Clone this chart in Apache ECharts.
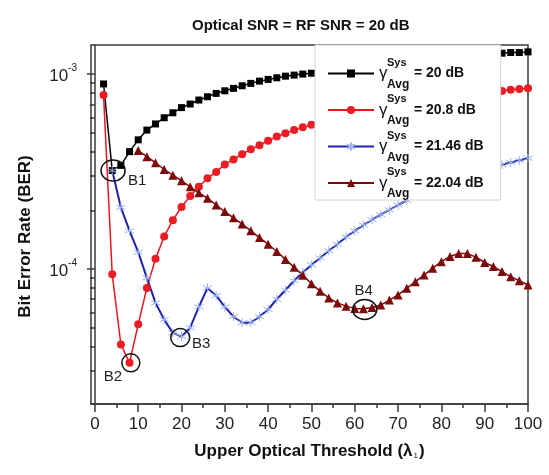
<!DOCTYPE html>
<html>
<head>
<meta charset="utf-8">
<script src="https://cdn.jsdelivr.net/npm/echarts@6/dist/echarts.min.js"></script>
<style>
  html, body { margin: 0; padding: 0; background: #fff; }
  #chart { width: 549px; height: 475px; }
</style>
</head>
<body>
<div id="chart"></div>
<script>
const FONT = '"Liberation Sans", Arial, sans-serif';

// tick positions
const xTicks = [0, 10, 20, 30, 40, 50, 60, 70, 80, 90, 100];
const xMinorTicks = [5, 15, 25, 35, 45, 55, 65, 75, 85, 95];
const yTicks = [1e-4, 1e-3];
const yMinorTicks = [2e-5, 3e-5, 4e-5, 5e-5, 6e-5, 7e-5, 8e-5, 9e-5,
                     2e-4, 3e-4, 4e-4, 5e-4, 6e-4, 7e-4, 8e-4, 9e-4];

// upper optical threshold values (lambda_1)
const lambda = [2, 4, 6, 8, 10, 12, 14, 16, 18, 20, 22, 24, 26, 28, 30, 32, 34, 36, 38, 40,
                42, 44, 46, 48, 50, 52, 54, 56, 58, 60, 62, 64, 66, 68, 70, 72, 74, 76, 78, 80,
                82, 84, 86, 88, 90, 92, 94, 96, 98, 100];

// BER, gamma = 20 dB (lambda 2..100)
const ber20 = [8.9e-4, 3.2e-4, 3.4e-4, 4.0e-4, 4.6e-4, 5.16e-4, 5.55e-4, 5.97e-4, 6.33e-4, 6.73e-4,
               7.02e-4, 7.36e-4, 7.65e-4, 7.96e-4, 8.21e-4, 8.45e-4, 8.71e-4, 8.96e-4, 9.2e-4, 9.39e-4,
               9.57e-4, 9.76e-4, 9.88e-4, 1.0e-3, 1.01e-3, 1.02e-3, 1.04e-3, 1.05e-3, 1.06e-3, 1.08e-3,
               1.09e-3, 1.10e-3, 1.12e-3, 1.13e-3, 1.14e-3, 1.16e-3, 1.17e-3, 1.18e-3, 1.19e-3, 1.21e-3,
               1.22e-3, 1.23e-3, 1.24e-3, 1.25e-3, 1.26e-3, 1.27e-3, 1.28e-3, 1.29e-3, 1.29e-3, 1.30e-3];

// gamma = 20.8 dB (lambda 2..100)
const ber208 = [7.8e-4, 9.4e-5, 4.1e-5, 3.3e-5, 5.2e-5, 8.0e-5, 1.13e-4, 1.47e-4, 1.78e-4, 2.08e-4,
                2.37e-4, 2.64e-4, 2.92e-4, 3.15e-4, 3.44e-4, 3.65e-4, 3.88e-4, 4.11e-4, 4.32e-4, 4.55e-4,
                4.78e-4, 4.97e-4, 5.16e-4, 5.33e-4, 5.5e-4, 5.65e-4, 5.8e-4, 5.95e-4, 6.1e-4, 6.25e-4,
                6.4e-4, 6.55e-4, 6.7e-4, 6.85e-4, 7.0e-4, 7.15e-4, 7.3e-4, 7.45e-4, 7.58e-4, 7.7e-4,
                7.8e-4, 7.88e-4, 7.95e-4, 8.0e-4, 8.05e-4, 8.1e-4, 8.2e-4, 8.3e-4, 8.38e-4, 8.45e-4];

// gamma = 21.46 dB (lambda 4..100)
const ber2146 = [3.2e-4, 2.07e-4, 1.57e-4, 1.22e-4, 9.0e-5, 6.7e-5, 5.5e-5, 4.7e-5, 4.5e-5, 5.0e-5,
                 6.4e-5, 8.0e-5, 7.3e-5, 6.4e-5, 5.7e-5, 5.3e-5, 5.3e-5, 5.7e-5, 6.2e-5, 7.0e-5,
                 7.8e-5, 8.7e-5, 9.6e-5, 1.05e-4, 1.14e-4, 1.24e-4, 1.34e-4, 1.46e-4, 1.57e-4, 1.68e-4,
                 1.79e-4, 1.90e-4, 2.01e-4, 2.13e-4, 2.25e-4, 2.40e-4, 2.52e-4, 2.64e-4, 2.76e-4, 2.88e-4,
                 2.99e-4, 3.09e-4, 3.19e-4, 3.28e-4, 3.36e-4, 3.43e-4, 3.52e-4, 3.61e-4, 3.70e-4];

// gamma = 22.04 dB (lambda 10..100)
const ber2204 = [4.05e-4, 3.77e-4, 3.51e-4, 3.24e-4, 3.03e-4, 2.84e-4, 2.64e-4, 2.46e-4, 2.31e-4, 2.13e-4,
                 1.97e-4, 1.83e-4, 1.70e-4, 1.57e-4, 1.45e-4, 1.34e-4, 1.23e-4, 1.12e-4, 1.02e-4, 9.3e-5,
                 8.4e-5, 7.7e-5, 7.1e-5, 6.7e-5, 6.45e-5, 6.28e-5, 6.25e-5, 6.35e-5, 6.53e-5, 6.93e-5,
                 7.36e-5, 7.96e-5, 8.61e-5, 9.31e-5, 1.01e-4, 1.09e-4, 1.16e-4, 1.2e-4, 1.2e-4, 1.15e-4,
                 1.08e-4, 1.03e-4, 9.7e-5, 9.14e-5, 8.71e-5, 8.28e-5];

const seriesNames = ['20 dB', '20.8 dB', '21.46 dB', '22.04 dB'];

// annotated minima: [lambda, BER, label]
const marks = [
    [4.2, 3.2e-4, 'B1'],
    [8.3, 3.3e-5, 'B2'],
    [19.7, 4.45e-5, 'B3'],
    [62.3, 6.2e-5, 'B4']
];

const pairs = (xs, ys) => ys.map((v, i) => [xs[i], v]);

const markPointOf = (m, size, offset) => ({
    symbol: 'circle',
    symbolSize: size,
    silent: true,
    itemStyle: { color: 'transparent', borderColor: '#111', borderWidth: 1.5 },
    label: {
        show: true, formatter: m[2], color: '#222', fontSize: 15,
        fontFamily: FONT, position: 'inside', offset: offset
    },
    data: [{ coord: [m[0], m[1]] }]
});

const chart = echarts.init(document.getElementById('chart'));

const yMin = 2.03e-5, yMax = 1.41e-3;
const xMin = -0.9, xMax = 100;
const axisColor = '#3a3a3a';

const option = {
    animation: false,
    backgroundColor: '#fff',
    title: {
        text: 'Optical SNR = RF SNR = 20 dB',
        left: 187, top: 13,
        textStyle: { fontFamily: FONT, fontSize: 15, fontWeight: 'bold', color: '#111' }
    },
    grid: {
        left: 91, right: 21, top: 45, bottom: 71,
        show: true, borderColor: axisColor, borderWidth: 1.5
    },
    legend: {
        left: 315, top: 45,
        orient: 'vertical',
        itemWidth: 46, itemHeight: 10, itemGap: 3,
        padding: [12, 17, 0, 12],
        backgroundColor: '#fff',
        borderColor: '#d4d4d4', borderWidth: 1,
        data: seriesNames,
        formatter: name => '{sp| }{sup|Sys}\n{g|γ}{sp2| }{v|= ' + name + '}\n{sp| }{sub|Avg}',
        textStyle: {
            fontFamily: FONT, color: '#111',
            rich: {
                sp: { width: 8, fontSize: 11, lineHeight: 10 },
                sup: { fontSize: 11, fontWeight: 'bold', lineHeight: 10, fontFamily: FONT },
                g: { width: 8, fontSize: 17, lineHeight: 12, fontFamily: FONT },
                sp2: { width: 27, fontSize: 11, lineHeight: 12 },
                v: { fontSize: 14, fontWeight: 'bold', lineHeight: 12, fontFamily: FONT },
                sub: { fontSize: 12, fontWeight: 'bold', lineHeight: 10, fontFamily: FONT }
            }
        }
    },
    xAxis: [{
        type: 'value', min: xMin, max: xMax,
        name: '{n|Upper Optical Threshold (λ}{s|1}{n|)}',
        nameLocation: 'middle', nameGap: 38,
        nameTextStyle: {
            rich: {
                n: { fontFamily: FONT, fontSize: 17, fontWeight: 'bold', color: '#111' },
                s: { fontFamily: FONT, fontSize: 8, color: '#111', padding: [10, 1, 0, 1] }
            }
        },
        axisLine: { show: true, lineStyle: { color: axisColor, width: 1.5 } },
        axisTick: { show: true, customValues: xTicks, length: 8, lineStyle: { color: axisColor, width: 1.5 } },
        axisLabel: { show: true, customValues: xTicks, fontFamily: FONT, fontSize: 17, color: '#222', margin: 12 },
        splitLine: { show: false }
    }, {
        type: 'value', min: xMin, max: xMax, position: 'bottom',
        axisLine: { show: false },
        axisTick: { show: true, customValues: xMinorTicks, length: 4, lineStyle: { color: axisColor, width: 1.5 } },
        axisLabel: { show: false },
        splitLine: { show: false }
    }],
    yAxis: [{
        type: 'log', logBase: 10, min: yMin, max: yMax,
        name: 'Bit Error Rate (BER)',
        nameLocation: 'middle', nameGap: 57,
        nameTextStyle: { fontFamily: FONT, fontSize: 17, fontWeight: 'bold', color: '#111', padding: [0, 24, 0, 0] },
        axisLine: { show: true, lineStyle: { color: axisColor, width: 1.5 } },
        axisTick: { show: true, customValues: yTicks, length: 8, lineStyle: { color: axisColor, width: 1.5 } },
        axisLabel: {
            show: true, customValues: yTicks, margin: 14,
            formatter: v => '{b|10}{s|' + Math.round(Math.log10(v)) + '}',
            rich: {
                b: { fontFamily: FONT, fontSize: 17, color: '#222', lineHeight: 22, verticalAlign: 'bottom' },
                s: { fontFamily: FONT, fontSize: 10, color: '#222', lineHeight: 22, verticalAlign: 'top' }
            }
        },
        splitLine: { show: false }
    }, {
        type: 'log', logBase: 10, min: yMin, max: yMax, position: 'left',
        axisLine: { show: false },
        axisTick: { show: true, customValues: yMinorTicks, length: 5, lineStyle: { color: axisColor, width: 1.5 } },
        axisLabel: { show: false },
        splitLine: { show: false }
    }],
    series: [{
        name: seriesNames[0], type: 'line',
        data: pairs(lambda, ber20),
        symbol: 'rect', symbolSize: 7,
        lineStyle: { color: '#000', width: 1.5 },
        itemStyle: { color: '#000' },
        markPoint: markPointOf(marks[0], [24, 21], [24, 10])
    }, {
        name: seriesNames[1], type: 'line',
        data: pairs(lambda, ber208),
        symbol: 'circle', symbolSize: 8,
        lineStyle: { color: '#e8161d', width: 1.5 },
        itemStyle: { color: '#ec1c24' },
        markPoint: markPointOf(marks[1], [18, 18], [-18, 14])
    }, {
        name: seriesNames[2], type: 'line',
        data: pairs(lambda.slice(1), ber2146),
        symbol: 'path://M5,0L5,10M0.7,2.5L9.3,7.5M0.7,7.5L9.3,2.5', symbolSize: 9,
        lineStyle: { color: '#1e22ad', width: 2 },
        itemStyle: { color: 'transparent', borderColor: '#9bb3ea', borderWidth: 1 },
        markPoint: markPointOf(marks[2], [19, 18], [21, 6])
    }, {
        name: seriesNames[3], type: 'line',
        data: pairs(lambda.slice(4), ber2204),
        symbol: 'triangle', symbolSize: 9,
        lineStyle: { color: '#7c0a0a', width: 1.5 },
        itemStyle: { color: '#7c0a0a' },
        markPoint: markPointOf(marks[3], [24, 20], [-1, -19])
    }]
};

chart.setOption(option);
</script>
</body>
</html>
